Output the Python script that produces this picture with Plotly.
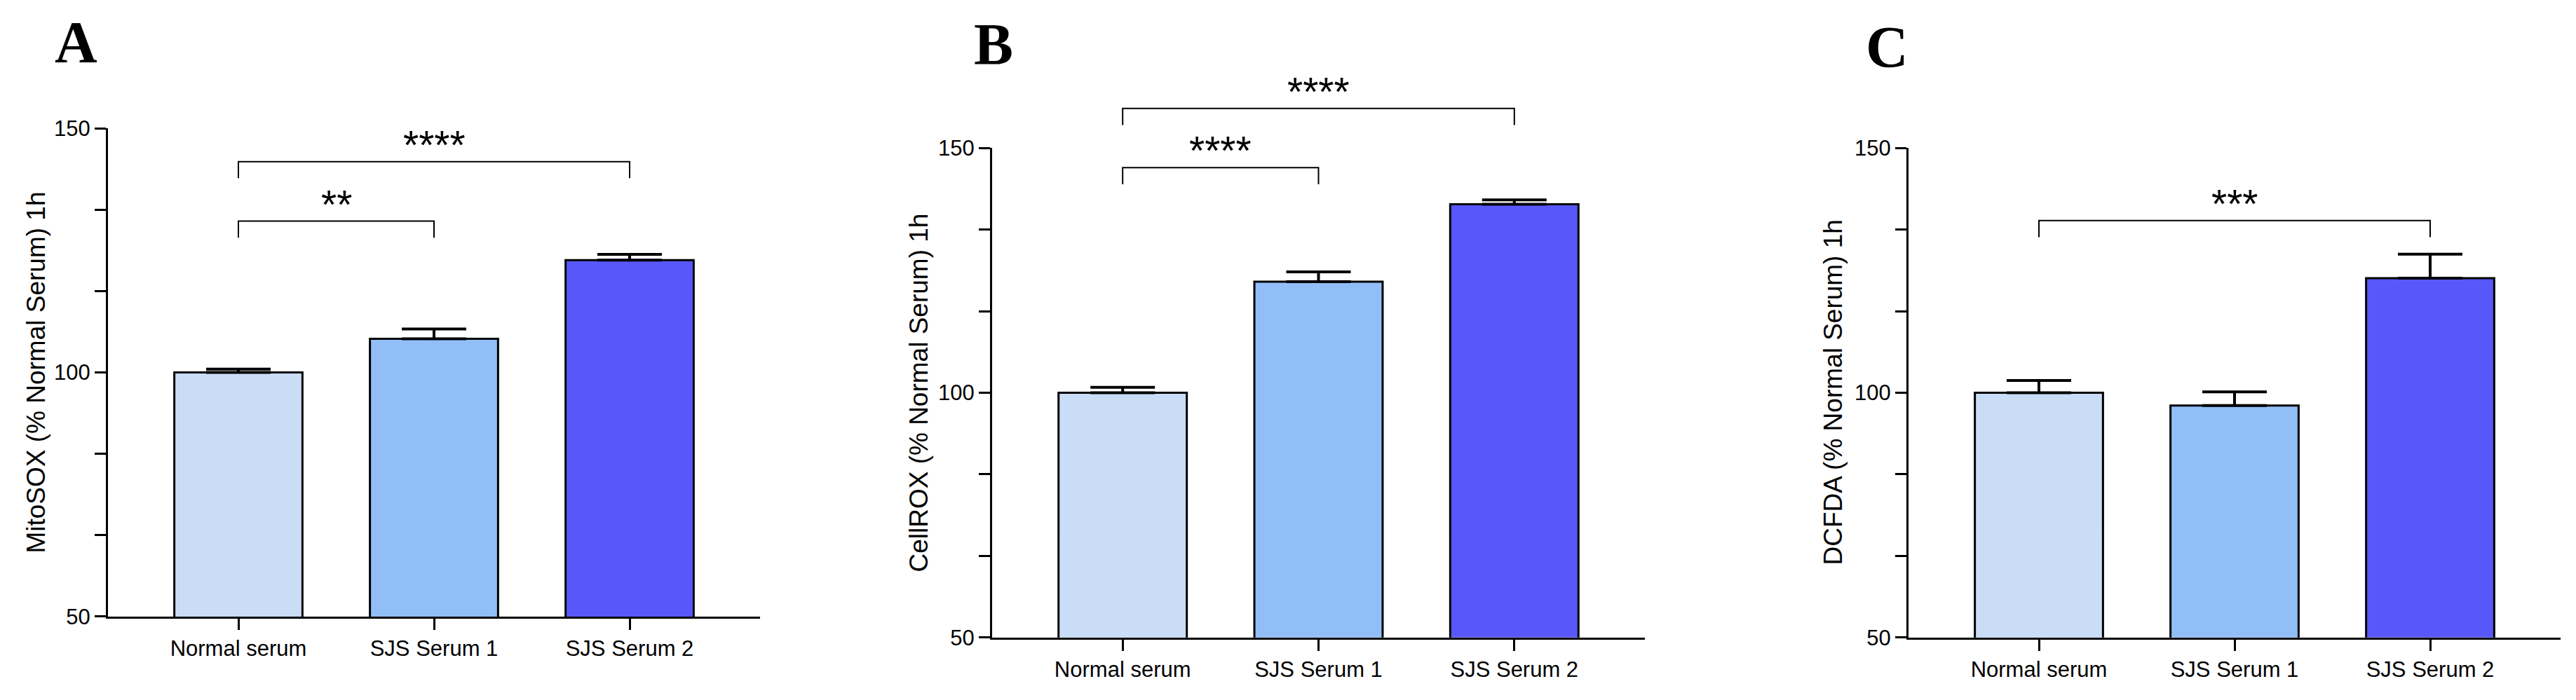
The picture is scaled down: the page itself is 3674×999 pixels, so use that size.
import plotly.graph_objects as go

# ---- data ----
categories = ["Normal serum", "SJS Serum 1", "SJS Serum 2"]
bar_colors = ["#C9DDF7", "#92BEF8", "#5858FA"]

mitosox_mean = [100.0, 106.9, 123.0]
mitosox_sem = [0.7, 2.0, 1.2]

cellrox_mean = [100.0, 122.7, 138.5]
cellrox_sem = [1.1, 2.0, 0.9]

dcfda_mean = [100.0, 97.4, 123.4]
dcfda_sem = [2.5, 2.8, 4.9]

# significance brackets: (group a, group b, bracket height, stars)
mitosox_sig = [(0, 1, 131.0, "**"), (0, 2, 143.2, "****")]
cellrox_sig = [(0, 1, 146.0, "****"), (0, 2, 158.1, "****")]
dcfda_sig = [(0, 2, 135.2, "***")]

W, H = 3674, 999
OFF = 8  # page body margin of the html export
Y_MIN, Y_MAX, Y_TOP = 50, 150, 170
LEG = 3.4  # bracket leg drop (data units)
FONT = "Liberation Sans, Arial, sans-serif"

# panel layout in pixels: x axis span, pixel row of y=150 and y=50
panels = [
    dict(letter="A", title="MitoSOX (% Normal Serum) 1h", mean=mitosox_mean, sem=mitosox_sem,
         sig=mitosox_sig, px=(154, 1084), py150=172, py50=894, let_xy=(76, 95), title_shift=102),
    dict(letter="B", title="CellROX (% Normal Serum) 1h", mean=cellrox_mean, sem=cellrox_sem,
         sig=cellrox_sig, px=(1415, 2346), py150=201, py50=925, let_xy=(1387, 98), title_shift=104),
    dict(letter="C", title="DCFDA (% Normal Serum) 1h", mean=dcfda_mean, sem=dcfda_sem,
         sig=dcfda_sig, px=(2722, 3652), py150=201, py50=925, let_xy=(2659, 102), title_shift=107),
]

fig = go.Figure()
annotations = []
layout_axes = {}

for k, p in enumerate(panels, start=1):
    ov = k + 3  # invisible overlay subplot for the brackets (can rise above 150)
    xs, ys = ("x" if k == 1 else f"x{k}"), ("y" if k == 1 else f"y{k}")
    xo, yo = f"x{ov}", f"y{ov}"

    x0, x1 = p["px"][0] - OFF, p["px"][1] - OFF
    y150, y50 = p["py150"] - OFF, p["py50"] - OFF
    xdom = [x0 / W, x1 / W]
    ydom = [(H - y50) / H, (H - y150) / H]
    unit = (y50 - y150) / (Y_MAX - Y_MIN)
    ytop_px = y150 - (Y_TOP - Y_MAX) * unit
    ydom_ov = [ydom[0], (H - ytop_px) / H]

    fig.add_trace(go.Bar(
        x=categories, y=p["mean"],
        marker=dict(color=bar_colors, line=dict(color="black", width=3)),
        error_y=dict(type="data", array=p["sem"], arrayminus=[0] * len(p["sem"]),
                     symmetric=False, color="black", thickness=4, width=46),
        xaxis=xs, yaxis=ys, showlegend=False,
    ))

    for a, b, h, stars in p["sig"]:
        fig.add_trace(go.Scatter(
            x=[categories[a], categories[a], categories[b], categories[b]],
            y=[h - LEG, h, h, h - LEG],
            mode="lines", line=dict(color="black", width=2),
            xaxis=xo, yaxis=yo, showlegend=False, hoverinfo="skip",
        ))
        annotations.append(dict(
            x=(a + b) / 2, y=h, xref=xo, yref=yo, text=stars, showarrow=False,
            yanchor="middle", yshift=24, font=dict(family=FONT, size=57, color="black"),
        ))

    axis_common = dict(showline=True, linecolor="black", linewidth=3, ticks="outside",
                       ticklen=16, tickwidth=3, tickcolor="black", showgrid=False,
                       zeroline=False, tickfont=dict(family=FONT, size=31, color="black"))
    layout_axes["xaxis" if k == 1 else f"xaxis{k}"] = dict(
        domain=xdom, anchor=ys, type="category", range=[-2 / 3, 8 / 3], **axis_common)
    layout_axes["yaxis" if k == 1 else f"yaxis{k}"] = dict(
        domain=ydom, anchor=xs, range=[Y_MIN, Y_MAX], tickmode="linear", tick0=50, dtick=50,
        minor=dict(ticks="outside", ticklen=16, tickwidth=3, tickcolor="black",
                   tick0=50, dtick=50 / 3, showgrid=False),
        **axis_common)
    layout_axes[f"xaxis{ov}"] = dict(domain=xdom, anchor=yo, type="category",
                                     categoryarray=categories, range=[-2 / 3, 8 / 3], visible=False)
    layout_axes[f"yaxis{ov}"] = dict(domain=ydom_ov, anchor=xo, range=[Y_MIN, Y_TOP], visible=False)

    # y axis title
    annotations.append(dict(
        x=0, y=100, xref=f"{xs} domain", yref=ys, text=p["title"], textangle=-90,
        showarrow=False, xanchor="center", yanchor="middle", xshift=-p["title_shift"],
        font=dict(family=FONT, size=37, color="black"),
    ))
    # panel letter
    annotations.append(dict(
        x=(p["let_xy"][0] - OFF) / W, y=(H - p["let_xy"][1] + OFF) / H,
        xref="paper", yref="paper",
        text=f"<b>{p['letter']}</b>", showarrow=False, xanchor="left", yanchor="bottom",
        font=dict(family="Liberation Serif, Times New Roman, serif", size=84, color="black"),
    ))

fig.update_layout(
    width=W, height=H, margin=dict(l=0, r=0, t=0, b=0),
    paper_bgcolor="white", plot_bgcolor="rgba(0,0,0,0)",
    bargap=0.345, annotations=annotations, **layout_axes,
)

fig.write_html("out.html")
